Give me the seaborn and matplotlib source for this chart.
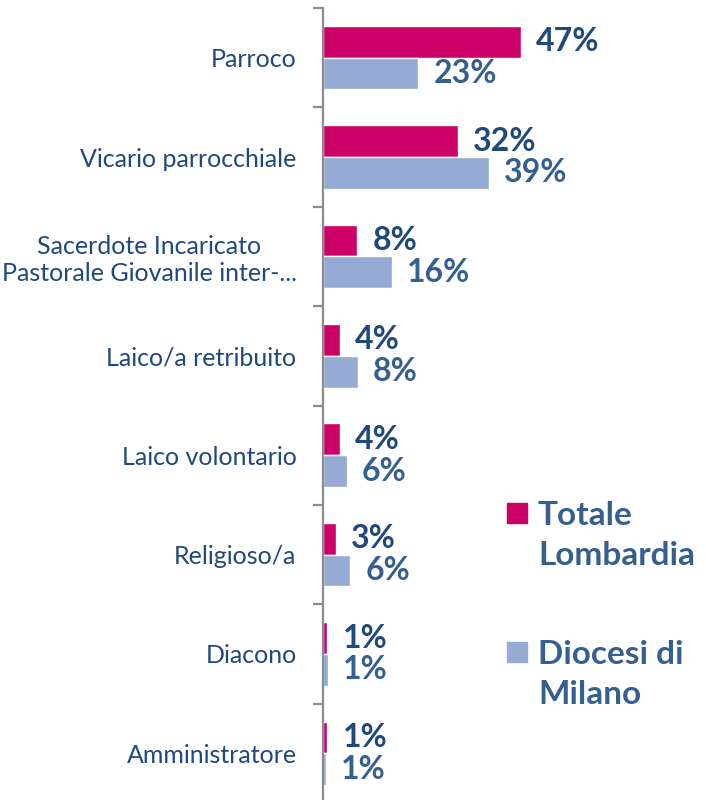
import pandas as pd
import matplotlib.pyplot as plt
import seaborn as sns
from matplotlib.patches import Rectangle

categories = ['Parroco', 'Vicario parrocchiale',
              'Sacerdote Incaricato\nPastorale Giovanile inter-...',
              'Laico/a retribuito', 'Laico volontario', 'Religioso/a',
              'Diacono', 'Amministratore']
totale_lombardia = [47.0, 32.1, 8.1, 4.0, 4.0, 3.1, 1.0, 1.0]
diocesi_milano = [22.6, 39.4, 16.4, 8.3, 5.6, 6.4, 1.1, 0.6]
series = ['Totale Lombardia', 'Diocesi di Milano']
legend_labels = ['Totale\nLombardia', 'Diocesi di\nMilano']
colors = ['#CC0066', '#95ABD3']
value_colors = ['#1F497D', '#365F91']

df = pd.DataFrame({
    'categoria': categories * 2,
    'serie': [series[0]] * len(categories) + [series[1]] * len(categories),
    'valore': totale_lombardia + diocesi_milano,
})

sns.set_style('white')
plt.rcParams['font.family'] = ['Lato', 'DejaVu Sans']

fig = plt.figure(figsize=(7.06, 8), dpi=100)
ax = fig.add_axes([323 / 706, -3 / 800, 383 / 706, 795 / 800])

sns.barplot(data=df, y='categoria', x='valore', hue='serie', order=categories,
            hue_order=series, palette=colors, width=0.64, saturation=1,
            orient='h', legend=False, ax=ax)
ax.set_xlim(0, 91)
ax.set_ylim(len(categories) - 0.5, -0.5)

# value labels
for cont, vc in zip(ax.containers, value_colors):
    labels = [f'{v:.0f}%' for v in cont.datavalues]
    ax.bar_label(cont, labels=labels, padding=11, color=vc, fontsize=23,
                 fontweight='bold', clip_on=False)

# axes styling
for side in ['top', 'right', 'bottom']:
    ax.spines[side].set_visible(False)
ax.spines['left'].set_color('#8C8C8C')
ax.spines['left'].set_linewidth(1.6)
ax.set_xticks([])
ax.set_xlabel('')
ax.set_ylabel('')
ax.set_yticks(range(len(categories)))
ax.set_yticklabels(categories, fontsize=18, color='#1F497D')
ax.tick_params(axis='y', which='major', length=0, pad=19)
ax.set_yticks([i - 0.5 for i in range(len(categories) + 1)], minor=True)
ax.tick_params(axis='y', which='minor', length=7, width=1.6, color='#8C8C8C',
               direction='out', left=True)
for lab in ax.get_yticklabels():
    lab.set_horizontalalignment('right')
    lab.set_multialignment('center')

# legend
legend_y = [513, 652]
for lab, col, yc in zip(legend_labels, colors, legend_y):
    fig.patches.append(Rectangle((507 / 706, 1 - (yc + 10) / 800), 20 / 706, 20 / 800,
                                 transform=fig.transFigure, color=col))
    fig.text(538 / 706, 1 - (yc - 12) / 800, lab, fontsize=24, fontweight='bold',
             color='#365F91', va='top', ha='left', linespacing=1.45)

fig.savefig('out.png', dpi=100)
